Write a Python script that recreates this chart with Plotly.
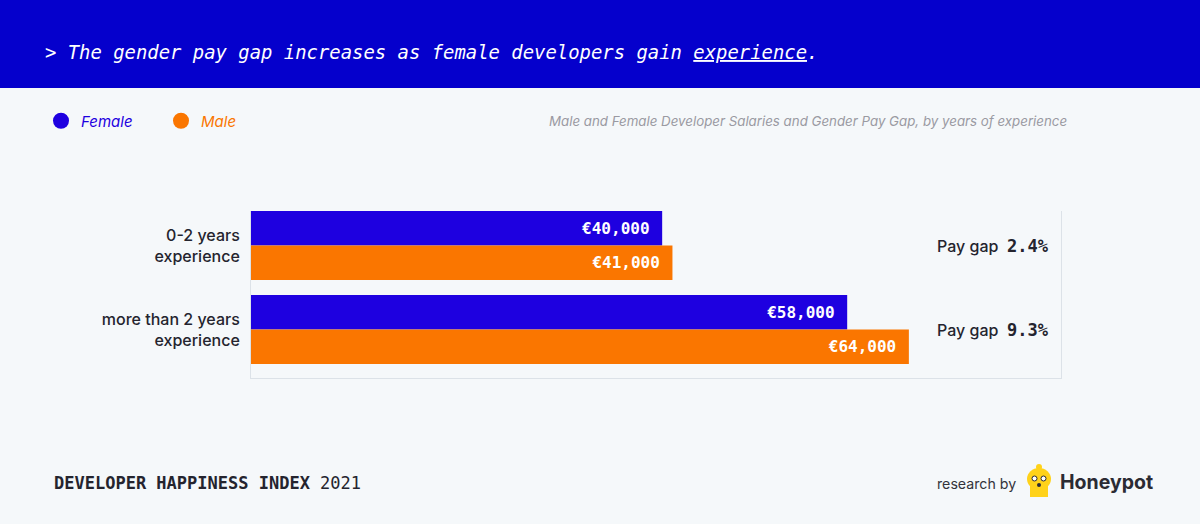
import plotly.graph_objects as go

# ---- data ----
categories = ["0-2 years<br>experience", "more than 2 years<br>experience"]
female_salary = [40000, 58000]
male_salary = [41000, 64000]
pay_gap = [2.4, 9.3]
title_text = "> The gender pay gap increases as female developers gain <u>experience</u>."
subtitle_text = "Male and Female Developer Salaries and Gender Pay Gap, by years of experience"

# ---- style ----
W, H = 1200, 524
ML, MR, MT, MB = 251, 139, 211, 146
PW, PH = W - ML - MR, H - MT - MB
BG = "#F5F8FA"
HEADER = "#0500CC"
BLUE = "#1E00E0"
ORANGE = "#FA7600"
DARK = "#24242E"
LINE = "#DCE2E8"
SANS = "Inter, Roboto, sans-serif"
MONO = "DejaVu Sans Mono, monospace"


def px_x(p):
    return (p - ML) / PW


def px_y(p):
    return (H - MB - p) / PH


def fmt(v):
    return "€{:,}&nbsp;".format(v)


fig = go.Figure()
fig.add_trace(go.Bar(
    y=categories, x=female_salary, orientation="h", name="Female",
    marker=dict(color=BLUE, line=dict(width=0)),
    text=[fmt(v) for v in female_salary], textposition="inside",
    insidetextanchor="end",
    textfont=dict(family=MONO, size=16, color="white", weight="bold"),
    showlegend=False, hoverinfo="skip",
))
fig.add_trace(go.Bar(
    y=categories, x=male_salary, orientation="h", name="Male",
    marker=dict(color=ORANGE, line=dict(width=0)),
    text=[fmt(v) for v in male_salary], textposition="inside",
    insidetextanchor="end",
    textfont=dict(family=MONO, size=16, color="white", weight="bold"),
    showlegend=False, hoverinfo="skip",
))
# legend entries
fig.add_trace(go.Scatter(x=[None], y=[None], mode="markers", name="<span style='color:%s'>Female</span>" % BLUE,
                         marker=dict(color=BLUE, size=17, symbol="circle")))
fig.add_trace(go.Scatter(x=[None], y=[None], mode="markers", name="<span style='color:%s'>Male</span>" % ORANGE,
                         marker=dict(color=ORANGE, size=17, symbol="circle")))

annotations = []
for cat, g in zip(categories, pay_gap):
    annotations.append(dict(
        xref="paper", x=1, xanchor="right", xshift=-10,
        yref="y", y=cat, yanchor="middle", showarrow=False,
        text="Pay gap&nbsp;&nbsp;<span style='font-family:%s;font-weight:bold;font-size:17px'>%.1f%%</span>" % (MONO, g),
        font=dict(family=SANS, size=16, color=DARK, weight=500),
    ))

annotations += [
    dict(xref="paper", yref="paper", x=px_x(43), y=px_y(52), xanchor="left", yanchor="middle",
         showarrow=False, text=title_text,
         font=dict(family=MONO, size=18.9, color="white", style="italic", weight="normal")),
    dict(xref="paper", yref="paper", x=px_x(1069), y=px_y(121), xanchor="right", yanchor="middle",
         showarrow=False, text=subtitle_text,
         font=dict(family=SANS, size=13.3, color="#9A9AA2", style="italic")),
    dict(xref="paper", yref="paper", x=px_x(52), y=px_y(483), xanchor="left", yanchor="middle",
         showarrow=False, text="<b>DEVELOPER HAPPINESS INDEX</b> 2021",
         font=dict(family=MONO, size=17, color=DARK)),
    dict(xref="paper", yref="paper", x=px_x(1018), y=px_y(483), xanchor="right", yanchor="middle",
         showarrow=False, text="research by",
         font=dict(family=SANS, size=14.2, color="#33333B")),
    dict(xref="paper", yref="paper", x=px_x(1058), y=px_y(482), xanchor="left", yanchor="middle",
         showarrow=False, text="<b>Honeypot</b>",
         font=dict(family=SANS, size=19.5, color="#2B2B33")),
]

YEL = "#FFD21A"
shapes = [
    dict(type="rect", xref="paper", yref="paper", x0=px_x(0), x1=px_x(W), y0=px_y(88), y1=px_y(0),
         fillcolor=HEADER, line=dict(width=0), layer="below"),
    # logo (approximate)
    dict(type="circle", xref="paper", yref="paper", x0=px_x(1036), x1=px_x(1042), y0=px_y(470), y1=px_y(464),
         fillcolor=YEL, line=dict(width=0)),
    dict(type="circle", xref="paper", yref="paper", x0=px_x(1027), x1=px_x(1051), y0=px_y(490), y1=px_y(468),
         fillcolor=YEL, line=dict(width=0)),
    dict(type="rect", xref="paper", yref="paper", x0=px_x(1030), x1=px_x(1048), y0=px_y(497), y1=px_y(482),
         fillcolor=YEL, line=dict(width=0)),
    dict(type="circle", xref="paper", yref="paper", x0=px_x(1032), x1=px_x(1037), y0=px_y(481), y1=px_y(476),
         fillcolor="white", line=dict(color="#2B2B33", width=1)),
    dict(type="circle", xref="paper", yref="paper", x0=px_x(1041), x1=px_x(1046), y0=px_y(481), y1=px_y(476),
         fillcolor="white", line=dict(color="#2B2B33", width=1)),
    dict(type="circle", xref="paper", yref="paper", x0=px_x(1037), x1=px_x(1041), y0=px_y(487), y1=px_y(483),
         fillcolor="#2B2B33", line=dict(width=0)),
]

fig.update_layout(
    width=W, height=H,
    margin=dict(l=ML, r=MR, t=MT, b=MB, pad=0),
    paper_bgcolor=BG, plot_bgcolor=BG,
    barmode="group", bargap=0.18, bargroupgap=0,
    font=dict(family=SANS, color=DARK),
    showlegend=True,
    legend=dict(orientation="h", x=px_x(41), y=px_y(121), xanchor="left", yanchor="middle",
                bgcolor="rgba(0,0,0,0)", font=dict(family=SANS, size=15, style="italic"),
                entrywidth=75, entrywidthmode="pixels", itemclick=False, itemdoubleclick=False),
    xaxis=dict(range=[0, 78800], showticklabels=False, showgrid=False, zeroline=False,
               showline=True, linecolor=LINE, linewidth=1, ticks="", layer="below traces",
               fixedrange=True),
    yaxis=dict(type="category", range=[1.577, -0.411], showgrid=False, zeroline=False,
               showline=True, mirror=True, linecolor=LINE, linewidth=1, ticks="",
               ticklabelstandoff=7, tickfont=dict(family=SANS, size=16, color=DARK, weight=500),
               layer="below traces", fixedrange=True),
    annotations=annotations, shapes=shapes,
)

fig.write_html(
    "out.html",
    config=dict(displayModeBar=False),
    post_script="document.body.style.margin='0';document.body.style.overflow='hidden';"
                "document.body.style.background='%s';" % BG,
)
